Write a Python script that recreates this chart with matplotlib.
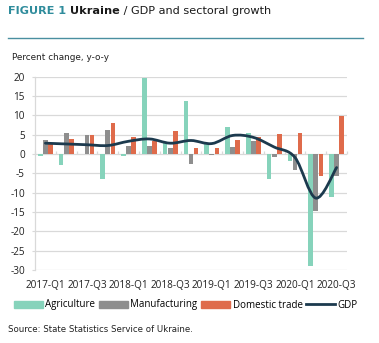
import numpy as np
import matplotlib
matplotlib.use("Agg")
import matplotlib.pyplot as plt
from matplotlib.path import Path
from matplotlib.patches import PathPatch, Patch
from matplotlib.lines import Line2D

quarters = ["2017-Q1", "2017-Q2", "2017-Q3", "2017-Q4",
            "2018-Q1", "2018-Q2", "2018-Q3", "2018-Q4",
            "2019-Q1", "2019-Q2", "2019-Q3", "2019-Q4",
            "2020-Q1", "2020-Q2", "2020-Q3"]
agriculture = [-0.6, -2.9, 0.0, -6.4, -0.4, 19.7, 2.8, 13.6, 2.7, 6.9, 5.5, -6.5, -1.7, -29.0, -11.2]
manufacturing = [3.6, 5.4, 5.0, 6.1, 2.2, 2.1, 1.6, -2.7, -0.2, 1.9, 3.4, -0.7, -4.2, -14.7, -5.6]
domestic_trade = [2.5, 4.0, 5.0, 7.9, 4.4, 3.3, 6.0, 1.6, 1.5, 3.6, 4.3, 5.2, 5.5, -5.6, 9.9]
gdp = [2.8, 2.6, 2.4, 2.2, 3.3, 3.9, 2.8, 3.5, 2.7, 4.8, 4.3, 1.8, -0.9, -11.4, -3.5]
yticks = [20, 15, 10, 5, 0, -5, -10, -15, -20, -25, -30]

C_AGR = "#86d3bb"
C_MAN = "#8e8e8e"
C_DOM = "#df6b4b"
C_GDP = "#1c3a4e"
C_GRID = "#d9d9d9"
TEAL = "#2f8c9c"

plt.rcParams["axes.unicode_minus"] = False
W, H = 379, 343
fig = plt.figure(figsize=(W / 100, H / 100), dpi=100)

ax = fig.add_axes([35 / W, 1 - 270 / H, 312 / W, (270 - 76.7) / H])
n = len(quarters)
x = np.arange(n)
bw = 0.225
sp = 0.245
ax.bar(x - sp, agriculture, bw, color=C_AGR, zorder=2)
ax.bar(x, manufacturing, bw, color=C_MAN, zorder=2)
ax.bar(x + sp, domestic_trade, bw, color=C_DOM, zorder=2)

# smooth GDP line (Catmull-Rom as cubic Bezier)
pts = np.column_stack([x, gdp]).astype(float)
verts = [tuple(pts[0])]
codes = [Path.MOVETO]
for i in range(n - 1):
    p0 = pts[i - 1] if i > 0 else pts[i]
    p1 = pts[i]
    p2 = pts[i + 1]
    p3 = pts[i + 2] if i + 2 < n else pts[i + 1]
    c1 = p1 + (p2 - p0) / 6.0
    c2 = p2 - (p3 - p1) / 6.0
    verts += [tuple(c1), tuple(c2), tuple(p2)]
    codes += [Path.CURVE4] * 3
ax.add_patch(PathPatch(Path(verts, codes), fill=False, edgecolor=C_GDP, lw=2.0,
                       zorder=3, capstyle="round", joinstyle="round"))

ax.set_xlim(-0.5, n - 0.5)
ax.set_ylim(-30, 20)
ax.set_yticks(yticks)
ax.set_yticklabels([str(v) for v in yticks])
ax.grid(axis="y", color=C_GRID, lw=0.9, zorder=0)
ax.set_axisbelow(True)
for s in ["top", "right", "bottom"]:
    ax.spines[s].set_visible(False)
ax.spines["left"].set_color(C_GRID)
ax.spines["left"].set_linewidth(0.9)
ax.tick_params(axis="y", length=2.3, color=C_GRID, pad=5, labelsize=7.2,
               labelcolor="#222222")
ax.set_xticks(x[::2])
ax.set_xticklabels(quarters[::2])
ax.tick_params(axis="x", length=0, pad=7, labelsize=7.2, labelcolor="#222222")
for lab in ax.get_xticklabels() + ax.get_yticklabels():
    lab.set_family("Open Sans")

# zero axis with tick marks between categories
sec = ax.secondary_xaxis(30 / 50)
sec.set_xticks(np.arange(-0.5, n, 1.0))
sec.tick_params(axis="x", direction="out", length=2.5, color=C_GRID, labelbottom=False,
                labeltop=False, width=0.9)
sec.spines["bottom"].set_color(C_GRID)
sec.spines["bottom"].set_linewidth(0.9)
sec.spines["top"].set_visible(False)

# title
fig.canvas.draw()
r = fig.canvas.get_renderer()
tx = 8 / W
ty = 1 - 11 / H
parts = [("FIGURE 1 ", "bold", TEAL), ("Ukraine", "bold", "#1a1a1a"),
         (" / GDP and sectoral growth", "normal", "#1a1a1a")]
for s, wgt, col in parts:
    t = fig.text(tx, ty, s, fontsize=8.1, fontweight=wgt, color=col,
                 family="DejaVu Sans", va="center", ha="left")
    bb = t.get_window_extent(renderer=r)
    tx += bb.width / W

fig.add_artist(Line2D([8 / W, 363 / W], [1 - 38 / H, 1 - 38 / H], color="#4a8fa0", lw=1.0))
fig.text(12 / W, 1 - 57 / H, "Percent change, y-o-y", fontsize=6.4, color="#222222",
         family="DejaVu Sans", va="center", ha="left")
fig.text(8 / W, 1 - 329 / H, "Source: State Statistics Service of Ukraine.", fontsize=6.2,
         color="#222222", family="DejaVu Sans", va="center", ha="left")

handles = [Patch(color=C_AGR), Patch(color=C_MAN), Patch(color=C_DOM),
           Line2D([0], [0], color=C_GDP, lw=2.0)]
fig.legend(handles, ["Agriculture", "Manufacturing", "Domestic trade", "GDP"],
           loc="center", bbox_to_anchor=(186 / W, 1 - 305 / H), ncol=4, frameon=False,
           prop={"family": "Open Sans", "size": 7.0}, handlelength=2.9,
           handletextpad=0.3, columnspacing=0.4, borderaxespad=0, borderpad=0)

fig.savefig("out.png", dpi=100)
